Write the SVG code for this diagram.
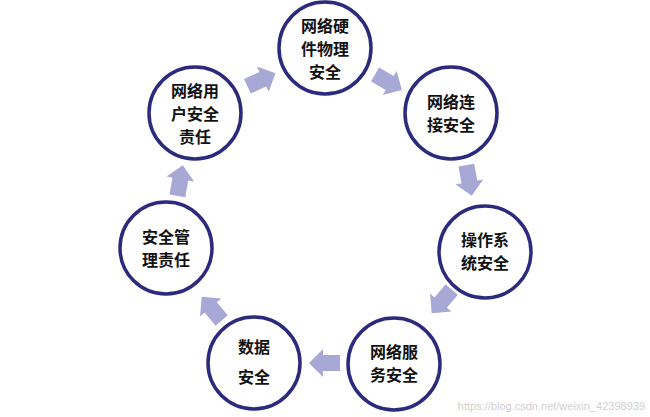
<svg xmlns="http://www.w3.org/2000/svg" width="650" height="417" viewBox="0 0 650 417">
<style>
.n{fill:#fff;stroke:#2b2a7c;stroke-width:3.5}
.t{font-family:"Noto Sans CJK SC",sans-serif;font-size:16px;font-weight:bold;fill:#111;text-anchor:middle}
.a{fill:#a8a8d6}
</style>
<defs><polygon id="ar" points="-15,-8 2,-8 2,-14 16,0 2,14 2,8 -15,8"/></defs>
<rect width="650" height="417" fill="#fff"/>
<g id="connectors">
<use href="#ar" class="a" transform="translate(261,80) rotate(-25)"/>
<use href="#ar" class="a" transform="translate(388,82) rotate(30)"/>
<use href="#ar" class="a" transform="translate(469,180) rotate(80)"/>
<use href="#ar" class="a" transform="translate(442,301) rotate(130)"/>
<use href="#ar" class="a" transform="translate(325,363) rotate(180)"/>
<use href="#ar" class="a" transform="translate(212,309) rotate(-130)"/>
<use href="#ar" class="a" transform="translate(180,181) rotate(-80)"/>
</g>
<g id="n1"><circle class="n" cx="325" cy="48" r="46"/><text class="t" x="325" y="32">网络硬</text><text class="t" x="325" y="55">件物理</text><text class="t" x="325" y="78">安全</text></g>
<g id="n2"><circle class="n" cx="451" cy="113" r="46"/><text class="t" x="451" y="108">网络连</text><text class="t" x="451" y="131">接安全</text></g>
<g id="n3"><circle class="n" cx="485" cy="252" r="46"/><text class="t" x="485" y="246">操作系</text><text class="t" x="485" y="269">统安全</text></g>
<g id="n4"><circle class="n" cx="394" cy="364" r="46"/><text class="t" x="394" y="358">网络服</text><text class="t" x="394" y="381">务安全</text></g>
<g id="n5"><circle class="n" cx="254" cy="363" r="46"/><text class="t" x="254" y="353">数据</text><text class="t" x="254" y="383">安全</text></g>
<g id="n6"><circle class="n" cx="166" cy="248" r="46"/><text class="t" x="166" y="243">安全管</text><text class="t" x="166" y="266">理责任</text></g>
<g id="n7"><circle class="n" cx="195" cy="113" r="46"/><text class="t" x="195" y="97">网络用</text><text class="t" x="195" y="120">户安全</text><text class="t" x="195" y="143">责任</text></g>
<text x="645" y="410" font-family="Liberation Sans,sans-serif" font-size="11" fill="#d0d0d0" text-anchor="end">https://blog.csdn.net/weixin_42398939</text>
</svg>
